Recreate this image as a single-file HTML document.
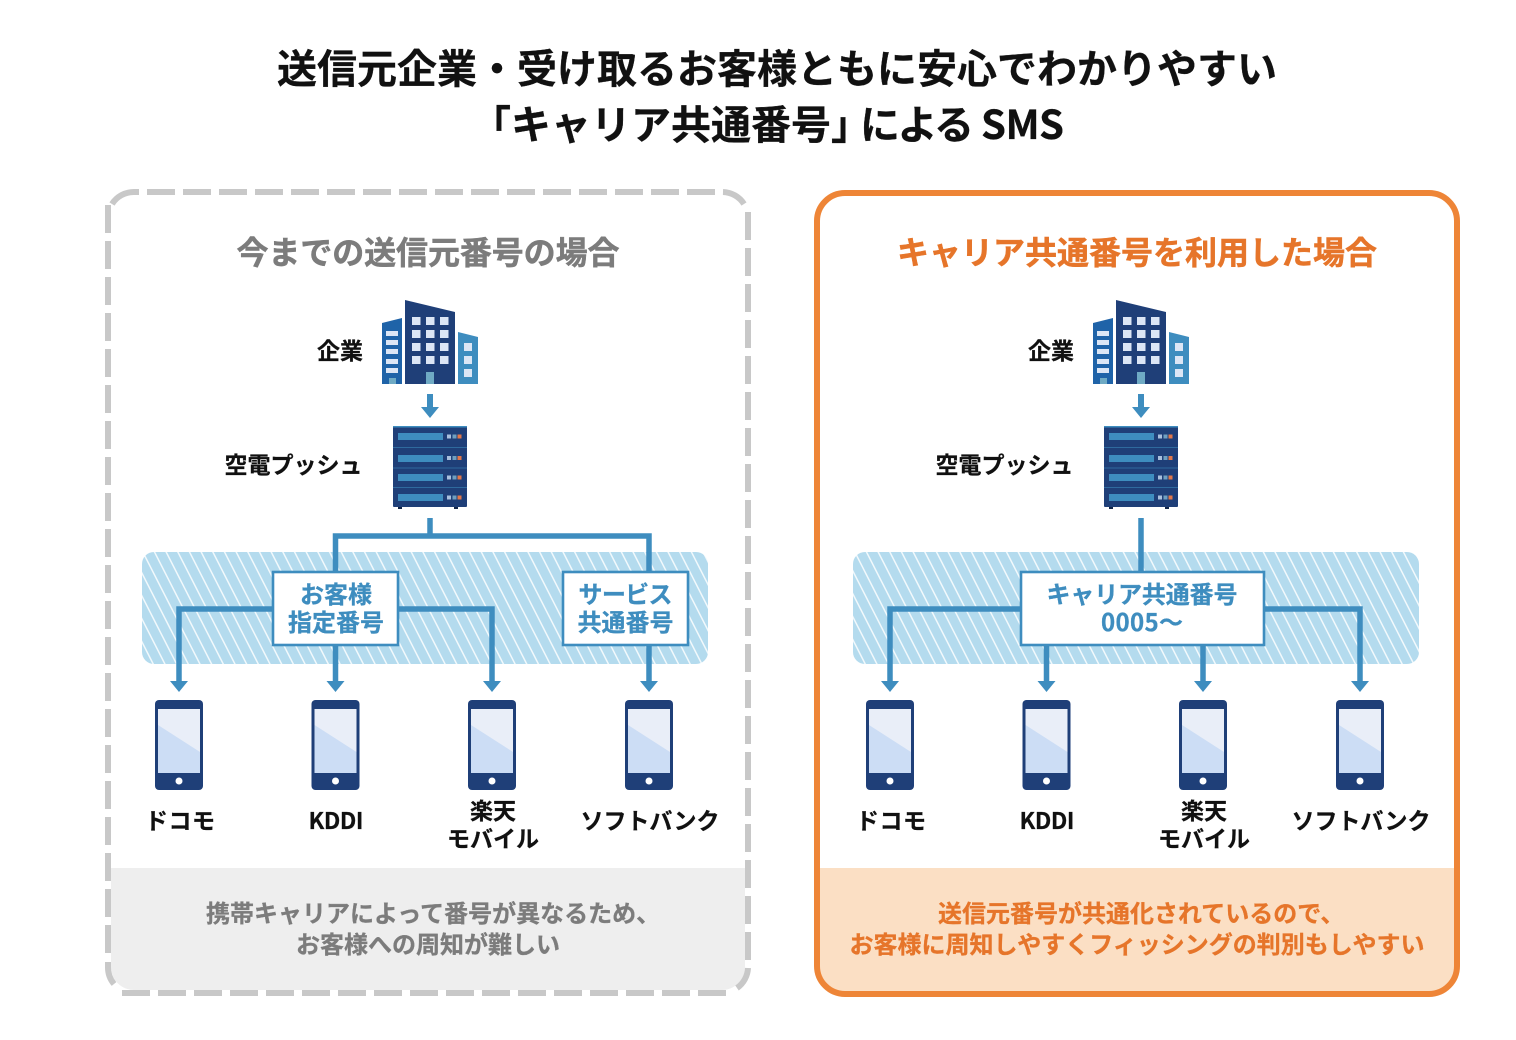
<!DOCTYPE html>
<html lang="ja"><head><meta charset="utf-8"><style>
html,body{margin:0;padding:0;background:#fff;width:1516px;height:1040px;overflow:hidden}
svg{display:block}
text{font-family:"Noto Sans CJK JP",sans-serif;font-weight:700;text-anchor:middle}
.t{font-size:40px;fill:#111;stroke:#111;stroke-width:.3}
.s{text-anchor:start}
.h{font-size:32px;stroke-width:.5}
.l{font-size:23px;fill:#111;stroke:#111;stroke-width:.25}
.b{font-size:24px;fill:#3E8DBF;stroke:#3E8DBF;stroke-width:.3}
.f{font-size:24px;stroke-width:.3}
.gy{fill:#7C7C7C;stroke:#7C7C7C}
.or{fill:#E6752A;stroke:#E6752A}
.dash{fill:none;stroke:#C8C8C8;stroke-width:6}
.dd{stroke-dasharray:28 8}
</style></head><body>
<svg width="1516" height="1040" viewBox="0 0 1516 1040" xmlns="http://www.w3.org/2000/svg">
<defs>
<pattern id="hatch" width="10.4" height="10.4" patternUnits="userSpaceOnUse" patternTransform="translate(142 552) rotate(-27)">
<rect width="10.4" height="10.4" fill="#B4DBEE"/><rect x="0" width="1.5" height="10.4" fill="#F2F9FC"/>
</pattern>
<g id="phone">
<rect x="-24" y="0" width="48" height="90" rx="4" fill="#1F3F78"/>
<rect x="-21" y="9" width="42" height="64" fill="#CCDDF5"/>
<polygon points="-21,9 21,9 21,52 -21,25" fill="#E9EEF8"/>
<circle cx="0" cy="81" r="3.5" fill="#fff"/>
</g>
<g id="downhead"><polygon points="-9,0 9,0 0,11" fill="#3E8DBF"/></g>
<g id="stack">
<polygon points="382,323 402,318 402,384 382,384" fill="#1F63A8"/>
<polygon points="405,300 455,312 455,384 405,384" fill="#1F3F78"/>
<polygon points="458,332 478,337 478,384 458,384" fill="#3E8DBF"/>
<g fill="#DCE6F5">
<rect x="412" y="317" width="8.500" height="8"/><rect x="426" y="317" width="8.500" height="8"/><rect x="440" y="317" width="8.500" height="8"/>
<rect x="412" y="330" width="8.500" height="8"/><rect x="426" y="330" width="8.500" height="8"/><rect x="440" y="330" width="8.500" height="8"/>
<rect x="412" y="343" width="8.500" height="8"/><rect x="426" y="343" width="8.500" height="8"/><rect x="440" y="343" width="8.500" height="8"/>
<rect x="412" y="356" width="8.500" height="8"/><rect x="426" y="356" width="8.500" height="8"/><rect x="440" y="356" width="8.500" height="8"/>
<rect x="386" y="331" width="12" height="5"/><rect x="386" y="340" width="12" height="5"/><rect x="386" y="349" width="12" height="5"/><rect x="386" y="359" width="12" height="5"/><rect x="386" y="368" width="12" height="5"/>
<rect x="464" y="343" width="8" height="8"/><rect x="464" y="356" width="8" height="8"/><rect x="464" y="369" width="8" height="8"/>
</g>
<rect x="426" y="372" width="8" height="12" fill="#6FAAC4"/>
<rect x="389" y="378" width="7" height="6" fill="#6FAAC4"/>
<rect x="427" y="394" width="6" height="13" fill="#3E8DBF"/>
<polygon points="421,407 439,407 430,418" fill="#3E8DBF"/>
<rect x="393" y="426" width="74" height="81" rx="1" fill="#1F3F78"/>
<rect x="393" y="426" width="74" height="1.5" fill="#3E8DBF"/>
<rect x="393" y="447" width="74" height="1" fill="#2F6A9E"/><rect x="393" y="467.500" width="74" height="1" fill="#2F6A9E"/><rect x="393" y="487" width="74" height="1" fill="#2F6A9E"/>
<rect x="398" y="507" width="4" height="2" fill="#12264a"/><rect x="454" y="507" width="4" height="2" fill="#12264a"/>
<g fill="#3E8DBF"><rect x="398" y="433" width="45" height="7"/><rect x="398" y="455" width="45" height="7"/><rect x="398" y="474" width="45" height="7"/><rect x="398" y="494" width="45" height="7"/></g>
<g fill="#A9BFDC"><rect x="447" y="434.500" width="4" height="4"/><rect x="447" y="456" width="4" height="4"/><rect x="447" y="475.500" width="4" height="4"/><rect x="447" y="495.500" width="4" height="4"/></g>
<g fill="#6F9FC0"><rect x="452.500" y="434.500" width="4" height="4"/><rect x="452.500" y="456" width="4" height="4"/><rect x="452.500" y="475.500" width="4" height="4"/><rect x="452.500" y="495.500" width="4" height="4"/></g>
<g fill="#E2774A"><rect x="457.500" y="434.500" width="4" height="4"/><rect x="457.500" y="456" width="4" height="4"/><rect x="457.500" y="475.500" width="4" height="4"/><rect x="457.500" y="495.500" width="4" height="4"/></g>
</g>
</defs>

<text class="t" x="777" y="83" textLength="1000">送信元企業・受け取るお客様ともに安心でわかりやすい</text>
<text class="t s" x="471" y="139">「</text>
<text class="t s" x="511" y="139">キャリア共通番号</text>
<text class="t s" x="831" y="139">」</text>
<text class="t s" x="860" y="139" textLength="114">による</text>
<text class="t s" x="981" y="139" textLength="83">SMS</text>

<!-- left panel -->
<path d="M111 868H745V967a23 23 0 0 1-23 23H134a23 23 0 0 1-23-23Z" fill="#EEEEEE"/>
<path class="dash" d="M112 204A26 26 0 0 1 134 192H139"/>
<path class="dash dd" d="M147 192H716"/>
<path class="dash" d="M723 192A26 26 0 0 1 744 204"/>
<path class="dash dd" d="M748 212V961"/>
<path class="dash" d="M748 968A26 26 0 0 1 737 988"/>
<path class="dash dd" d="M122 993H727"/>
<path class="dash" d="M108 962V967A26 26 0 0 0 114 984"/>
<path class="dash dd" d="M108 205V954"/>
<text class="h gy" x="428" y="264" textLength="383">今までの送信元番号の場合</text>
<use href="#stack"/>
<text class="l" x="340" y="359">企業</text>
<text class="l" x="293.500" y="473" textLength="138">空電プッシュ</text>

<rect x="142" y="552" width="566" height="112" rx="12" fill="url(#hatch)"/>
<path d="M430 518V536M335.500 572V536H649V572" fill="none" stroke="#3E8DBF" stroke-width="5.500"/>
<path d="M273 609H179V682M335.500 645V682M398 609H492V682M649 645V682" fill="none" stroke="#3E8DBF" stroke-width="5.500"/>
<use href="#downhead" x="179" y="681"/><use href="#downhead" x="335.500" y="681"/><use href="#downhead" x="492" y="681"/><use href="#downhead" x="649" y="681"/>
<rect x="273" y="572" width="125" height="73" fill="#fff" stroke="#3E8DBF" stroke-width="2.600"/>
<rect x="563" y="572" width="125" height="73" fill="#fff" stroke="#3E8DBF" stroke-width="2.600"/>
<text class="b" x="336" y="603">お客様</text><text class="b" x="336" y="631">指定番号</text>
<text class="b" x="625.500" y="603" textLength="94">サービス</text><text class="b" x="625.500" y="631">共通番号</text>
<use href="#phone" x="179" y="700"/><use href="#phone" x="335.500" y="700"/><use href="#phone" x="492" y="700"/><use href="#phone" x="649" y="700"/>
<text class="l" x="180" y="829" textLength="70">ドコモ</text>
<text class="l" x="336" y="829" textLength="55">KDDI</text>
<text class="l" x="493" y="819">楽天</text>
<text class="l" x="493" y="847" textLength="92">モバイル</text>
<text class="l" x="650" y="829" textLength="139">ソフトバンク</text>
<text class="f gy s" x="206" y="922">携帯キャリアによって番号が異なるため、</text>
<text class="f gy" x="428" y="953" textLength="264">お客様への周知が難しい</text>

<!-- right panel -->
<path d="M817 868H1457V966a28 28 0 0 1-28 28H845a28 28 0 0 1-28-28Z" fill="#FBDFC4"/>
<rect x="817" y="193" width="640" height="801" rx="28" fill="none" stroke="#EE8537" stroke-width="6"/>
<text class="h or" x="1137" y="264" textLength="480">キャリア共通番号を利用した場合</text>
<use href="#stack" x="711"/>
<text class="l" x="1051" y="359">企業</text>
<text class="l" x="1004.500" y="473" textLength="138">空電プッシュ</text>

<rect x="853" y="552" width="566" height="112" rx="12" fill="url(#hatch)"/>
<path d="M1141 518V572" fill="none" stroke="#3E8DBF" stroke-width="5.500"/>
<path d="M1021 609H890V682M1046.500 645V682M1203 645V682M1264 609H1360V682" fill="none" stroke="#3E8DBF" stroke-width="5.500"/>
<use href="#downhead" x="890" y="681"/><use href="#downhead" x="1046.500" y="681"/><use href="#downhead" x="1203" y="681"/><use href="#downhead" x="1360" y="681"/>
<rect x="1021" y="572" width="243" height="73" fill="#fff" stroke="#3E8DBF" stroke-width="2.600"/>
<text class="b" x="1142" y="603" textLength="191">キャリア共通番号</text>
<text class="b" x="1142" y="631" textLength="82">0005～</text>
<use href="#phone" x="890" y="700"/><use href="#phone" x="1046.500" y="700"/><use href="#phone" x="1203" y="700"/><use href="#phone" x="1360" y="700"/>
<text class="l" x="891" y="829" textLength="70">ドコモ</text>
<text class="l" x="1047" y="829" textLength="55">KDDI</text>
<text class="l" x="1204" y="819">楽天</text>
<text class="l" x="1204" y="847" textLength="92">モバイル</text>
<text class="l" x="1361" y="829" textLength="139">ソフトバンク</text>
<text class="f or s" x="938" y="922">送信元番号が共通化されているので、</text>
<text class="f or" x="1137" y="953" textLength="575">お客様に周知しやすくフィッシングの判別もしやすい</text>
</svg>
</body></html>
